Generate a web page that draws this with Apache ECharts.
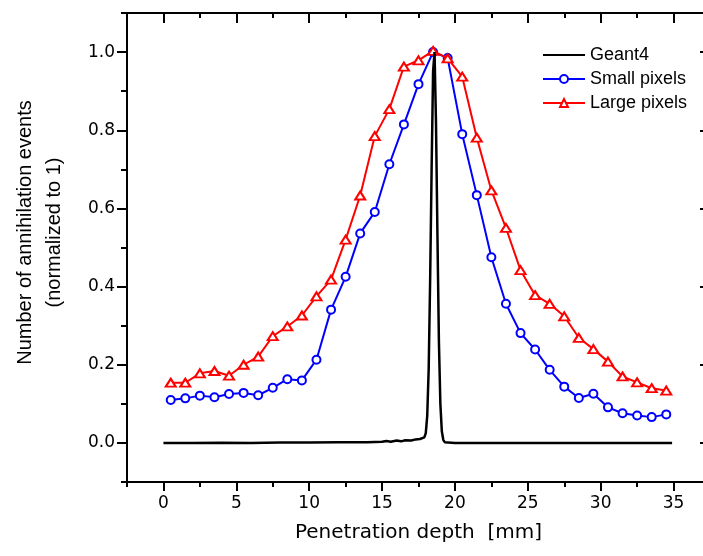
<!DOCTYPE html>
<html>
<head>
<meta charset="utf-8">
<script src="https://cdn.jsdelivr.net/npm/echarts@6/dist/echarts.min.js"></script>
<style>html,body{margin:0;padding:0;background:#fff;}#c{width:703px;height:556px;}</style>
</head>
<body>
<div id="c"></div>
<script>
// Depth bins (mm) for the pixel detectors
var depthBins = [0.5,1.5,2.5,3.5,4.5,5.5,6.5,7.5,8.5,9.5,10.5,11.5,12.5,13.5,14.5,15.5,16.5,17.5,18.5,19.5,20.5,21.5,22.5,23.5,24.5,25.5,26.5,27.5,28.5,29.5,30.5,31.5,32.5,33.5,34.5];
var smallPixels = [0.110,0.114,0.121,0.117,0.125,0.128,0.122,0.141,0.163,0.160,0.213,0.341,0.425,0.536,0.591,0.713,0.815,0.918,1.000,0.985,0.790,0.634,0.475,0.356,0.281,0.239,0.187,0.144,0.115,0.126,0.091,0.076,0.070,0.066,0.073];
var largePixels = [0.154,0.154,0.178,0.184,0.172,0.200,0.221,0.273,0.298,0.326,0.375,0.418,0.520,0.633,0.785,0.854,0.963,0.979,1.003,0.984,0.937,0.781,0.646,0.550,0.442,0.378,0.356,0.324,0.269,0.240,0.208,0.170,0.155,0.140,0.134];
// Geant4 simulated profile
var geantDepth = [0,2,4,6,8,10,12,14,15,15.3,15.6,16,16.3,16.6,17,17.3,17.6,17.9,18.0,18.1,18.2,18.3,18.4,18.5,18.6,18.7,18.8,18.9,19.0,19.1,19.2,19.3,19.4,20,25,30,34.9];
var geantValue = [0,0,0.0005,0,0.001,0.001,0.0015,0.002,0.003,0.005,0.003,0.006,0.004,0.007,0.006,0.009,0.010,0.014,0.025,0.07,0.19,0.42,0.70,0.95,1.0,0.82,0.53,0.26,0.10,0.03,0.008,0.002,0,0,0,0,0];
// Tick values
var xMajor = [0,5,10,15,20,25,30,35];
var xMinor = [-2.5,2.5,7.5,12.5,17.5,22.5,27.5,32.5,37.5];
var yMajor = [0,0.2,0.4,0.6,0.8,1.0];
var yMinor = [-0.1,0.1,0.3,0.5,0.7,0.9,1.1];

function zip(a,b){return a.map(function(v,i){return [v,b[i]];});}

var chart = echarts.init(document.getElementById('c'), null, {renderer:'canvas'});
var tickFont = 'DejaVu Sans';
function xAx(pos, vals, len, inside, labels) {
  return {
    type:'value', position:pos, min:-2.5, max:37.5, interval:2.5,
    axisLine:{show:true, onZero:false, lineStyle:{color:'#000', width:2}},
    axisTick:{show:true, inside:inside, length:len, customValues:vals, lineStyle:{color:'#000', width:2}},
    axisLabel:{show:labels, customValues:vals, margin:13, color:'#000', fontFamily:tickFont, fontSize:17},
    splitLine:{show:false}
  };
}
function yAx(pos, vals, len, inside, labels) {
  return {
    type:'value', position:pos, min:-0.1, max:1.1, interval:0.1,
    axisLine:{show:true, onZero:false, lineStyle:{color:'#000', width:2}},
    axisTick:{show:true, inside:inside, length:len, customValues:vals, lineStyle:{color:'#000', width:2}},
    axisLabel:{show:labels, customValues:vals, margin:12, color:'#000', fontFamily:tickFont, fontSize:17,
      formatter:function(v){return v.toFixed(1);}},
    splitLine:{show:false}
  };
}
var xMain = xAx('bottom', xMajor, 9, false, true);
xMain.name = 'Penetration depth  [mm]';
xMain.nameLocation = 'middle';
xMain.nameGap = 41;
xMain.nameTextStyle = {fontFamily:tickFont, fontSize:20, color:'#000'};
var yMain = yAx('left', yMajor, 10, false, true);
yMain.name = 'Number of annihilation events\n(normalized to 1)';
yMain.nameLocation = 'middle';
yMain.nameGap = 58;
yMain.nameTextStyle = {fontFamily:'Liberation Sans', fontSize:20, color:'#000', lineHeight:29, padding:[0,0,0,30]};

var option = {
  animation:false,
  backgroundColor:'#fff',
  grid:{left:127, top:13, right:-7, bottom:74, containLabel:false, outerBoundsMode:'none'},
  xAxis:[
    xMain,
    xAx('bottom', xMinor, 5, false, false),
    xAx('top', xMajor, 10, true, false),
    xAx('top', xMinor, 5, true, false)
  ],
  yAxis:[
    yMain,
    yAx('left', yMinor, 6, false, false),
    yAx('right', yMajor, 10, true, false),
    yAx('right', yMinor, 5, true, false)
  ],
  legend:{
    orient:'vertical', left:542, top:46, padding:0, itemWidth:42, itemHeight:10, itemGap:6,
    textStyle:{fontFamily:'Liberation Sans', fontSize:18, color:'#000', lineHeight:18},
    data:[
      {name:'Geant4', icon:'path://M0,4 L42,4 L42,6 L0,6 Z', itemStyle:{color:'#000'}},
      'Small pixels','Large pixels'
    ]
  },
  series:[
    {name:'Small pixels', type:'line', data:zip(depthBins, smallPixels), symbol:'emptyCircle', symbolSize:8,
      lineStyle:{color:'#0000ff', width:2}, itemStyle:{color:'#0000ff', borderWidth:2}, z:3},
    {name:'Large pixels', type:'line', data:zip(depthBins, largePixels), symbol:'emptyTriangle', symbolSize:[10,8],
      lineStyle:{color:'#ff0000', width:2}, itemStyle:{color:'#ff0000', borderWidth:2}, z:4},
    {name:'Geant4', type:'line', data:zip(geantDepth, geantValue), showSymbol:false, symbol:'none',
      lineStyle:{color:'#000', width:2.5}, itemStyle:{color:'#000'}, z:5}
  ]
};
chart.setOption(option);
</script>
</body>
</html>
